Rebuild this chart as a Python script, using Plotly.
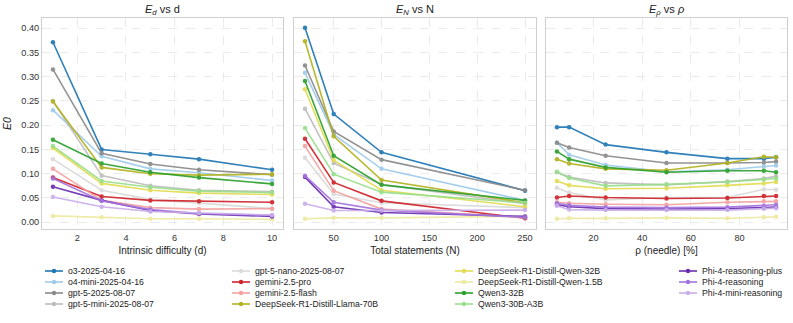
import plotly.graph_objects as go

W, H = 793, 323

models = [
    "o3-2025-04-16", "o4-mini-2025-04-16", "gpt-5-2025-08-07", "gpt-5-mini-2025-08-07",
    "gpt-5-nano-2025-08-07", "gemini-2.5-pro", "gemini-2.5-flash", "DeepSeek-R1-Distill-Llama-70B",
    "DeepSeek-R1-Distill-Qwen-32B", "DeepSeek-R1-Distill-Qwen-1.5B", "Qwen3-32B", "Qwen3-30B-A3B",
    "Phi-4-reasoning-plus", "Phi-4-reasoning", "Phi-4-mini-reasoning",
]
colors = [
    "#1f77b4", "#9fcbeb", "#8a8a8a", "#bdbdbd",
    "#dadada", "#d0232a", "#f4a1a1", "#b3b21f",
    "#e3dc52", "#eeeaa0", "#2ca02c", "#98df8a",
    "#6a2db0", "#a374de", "#caaeea",
]

d_vals = [1, 3, 5, 7, 10]
N_vals = [20, 50, 100, 250]
rho_vals = [5, 10, 25, 50, 75, 90, 95]

E_d = [
    [0.371, 0.150, 0.140, 0.130, 0.108],
    [0.231, 0.136, 0.110, 0.102, 0.086],
    [0.315, 0.142, 0.120, 0.108, 0.098],
    [0.250, 0.096, 0.075, 0.066, 0.063],
    [0.130, 0.066, 0.047, 0.040, 0.028],
    [0.092, 0.053, 0.045, 0.043, 0.041],
    [0.110, 0.045, 0.030, 0.027, 0.028],
    [0.249, 0.113, 0.100, 0.097, 0.099],
    [0.153, 0.080, 0.066, 0.060, 0.057],
    [0.013, 0.010, 0.007, 0.007, 0.006],
    [0.170, 0.121, 0.103, 0.092, 0.079],
    [0.157, 0.085, 0.072, 0.064, 0.061],
    [0.073, 0.045, 0.024, 0.017, 0.012],
    [0.090, 0.044, 0.026, 0.018, 0.014],
    [0.052, 0.032, 0.022, 0.019, 0.015],
]
E_N = [
    [0.401, 0.223, 0.144, 0.065],
    [0.308, 0.181, 0.110, 0.045],
    [0.323, 0.187, 0.129, 0.066],
    [0.234, 0.122, 0.078, 0.038],
    [0.133, 0.058, 0.040, 0.030],
    [0.172, 0.082, 0.044, 0.008],
    [0.157, 0.065, 0.027, 0.010],
    [0.373, 0.177, 0.087, 0.040],
    [0.274, 0.128, 0.066, 0.032],
    [0.007, 0.009, 0.009, 0.012],
    [0.291, 0.137, 0.077, 0.045],
    [0.194, 0.099, 0.062, 0.040],
    [0.093, 0.032, 0.020, 0.012],
    [0.096, 0.041, 0.025, 0.010],
    [0.038, 0.024, 0.024, 0.025],
]
E_rho = [
    [0.196, 0.196, 0.160, 0.144, 0.131, 0.131, 0.134],
    [0.164, 0.139, 0.118, 0.104, 0.108, 0.115, 0.117],
    [0.164, 0.154, 0.137, 0.122, 0.122, 0.123, 0.125],
    [0.103, 0.093, 0.081, 0.077, 0.084, 0.090, 0.095],
    [0.071, 0.061, 0.046, 0.051, 0.051, 0.068, 0.067],
    [0.051, 0.054, 0.051, 0.049, 0.050, 0.054, 0.054],
    [0.041, 0.039, 0.037, 0.036, 0.041, 0.043, 0.043],
    [0.130, 0.121, 0.110, 0.107, 0.122, 0.135, 0.134],
    [0.085, 0.076, 0.069, 0.070, 0.076, 0.080, 0.083],
    [0.007, 0.008, 0.008, 0.009, 0.008, 0.010, 0.011],
    [0.146, 0.130, 0.113, 0.103, 0.106, 0.106, 0.103],
    [0.104, 0.091, 0.075, 0.078, 0.083, 0.088, 0.090],
    [0.036, 0.032, 0.028, 0.027, 0.028, 0.030, 0.031],
    [0.039, 0.035, 0.031, 0.030, 0.031, 0.034, 0.036],
    [0.034, 0.026, 0.025, 0.025, 0.025, 0.028, 0.029],
]

titles = ["<i>E<sub>d</sub></i> vs d", "<i>E<sub>N</sub></i> vs N", "<i>E<sub>ρ</sub></i> vs <i>ρ</i>"]
xtitles = ["Intrinsic difficulty (d)", "Total statements (N)", "ρ (needle) [%]"]

FONT = "Liberation Sans, Arial, DejaVu Sans, sans-serif"

fig = go.Figure()
panels = [(d_vals, E_d, "x", "y"), (N_vals, E_N, "x2", "y2"), (rho_vals, E_rho, "x3", "y3")]
for xs, ys, xa, ya in panels:
    for i, m in enumerate(models):
        fig.add_trace(go.Scatter(
            x=xs, y=ys[i], mode="lines+markers", name=m, showlegend=False,
            line=dict(color=colors[i], width=1.6), marker=dict(color=colors[i], size=4.5),
            opacity=0.92, xaxis=xa, yaxis=ya, hoverinfo="skip",
        ))

def px_x(p):
    return p / W

def px_y(p):
    return 1 - p / H

x_domains = [[px_x(42), px_x(283)], [px_x(294), px_x(536)], [px_x(546), px_x(787)]]
y_domain = [px_y(229), px_y(18)]
x_ranges = [[0.55, 10.45], [8.5, 261.5], [0.5, 99.5]]
x_ticks = [[2, 4, 6, 8, 10], [50, 100, 150, 200, 250], [20, 40, 60, 80]]

axis_common = dict(
    showgrid=True, gridcolor="#e6e6e6", griddash="dash", gridwidth=0.8,
    showline=True, linecolor="#cfcfcf", linewidth=1, mirror=True,
    zeroline=False, ticks="", tickfont=dict(size=9.2, color="#333333", family=FONT),
)

layout = dict(
    width=W, height=H, margin=dict(l=0, r=0, t=0, b=0),
    paper_bgcolor="white", plot_bgcolor="white", showlegend=False,
    font=dict(family=FONT, color="#222222"),
)
for k in range(3):
    sfx = "" if k == 0 else str(k + 1)
    layout["xaxis" + sfx] = dict(
        axis_common, domain=x_domains[k], range=x_ranges[k], tickvals=x_ticks[k],
        anchor="y" + sfx,
        title=dict(text=xtitles[k], font=dict(size=10, color="#222222"), standoff=4),
    )
    ydict = dict(axis_common, domain=y_domain, range=[-0.014, 0.421],
                 tickvals=[0, 0.05, 0.1, 0.15, 0.2, 0.25, 0.3, 0.35, 0.4],
                 tickformat=".2f", anchor="x" + sfx)
    if k == 0:
        ydict["title"] = dict(text="<i>E0</i>", font=dict(size=10.5, color="#222222"), standoff=7)
    else:
        ydict["matches"] = "y"
        ydict["showticklabels"] = False
    layout["yaxis" + sfx] = ydict
fig.update_layout(**layout)

annotations = []
for k in range(3):
    annotations.append(dict(
        text=titles[k], x=sum(x_domains[k]) / 2, y=px_y(10), xref="paper", yref="paper",
        showarrow=False, xanchor="center", yanchor="middle", font=dict(size=11, color="#222222"),
    ))

# legend (4 columns, filled column by column)
col_x = [45, 232, 455, 679]
row_y = [271, 282, 293, 304]
shapes = []
for i, m in enumerate(models):
    c, r = i // 4, i % 4
    x0, yy = col_x[c], row_y[r]
    shapes.append(dict(type="line", xref="paper", yref="paper",
                       x0=px_x(x0), x1=px_x(x0 + 18), y0=px_y(yy), y1=px_y(yy),
                       line=dict(color=colors[i], width=1.6)))
    shapes.append(dict(type="circle", xref="paper", yref="paper",
                       x0=px_x(x0 + 6.8), x1=px_x(x0 + 11.2), y0=px_y(yy + 2.2), y1=px_y(yy - 2.2),
                       fillcolor=colors[i], line=dict(color=colors[i], width=0)))
    annotations.append(dict(
        text=m, x=px_x(x0 + 21), y=px_y(yy), xref="paper", yref="paper", showarrow=False,
        xanchor="left", yanchor="middle", font=dict(size=8.7, color="#222222"),
    ))
fig.update_layout(annotations=annotations, shapes=shapes)

fig.write_html(
    "out.html",
    config={"displayModeBar": False, "staticPlot": True},
    post_script="document.body.style.margin='0';document.body.style.overflow='hidden';",
)
